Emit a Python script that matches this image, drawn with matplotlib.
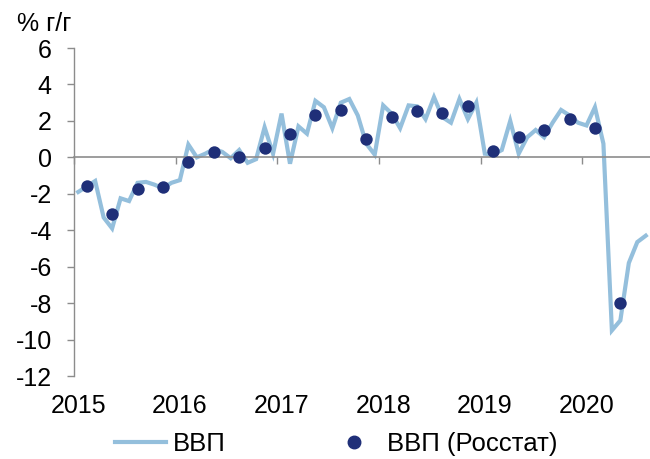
import numpy as np
import matplotlib
matplotlib.use("Agg")
import matplotlib.pyplot as plt
from matplotlib.lines import Line2D
import matplotlib.transforms as mtransforms

plt.rcParams["font.family"] = ["Liberation Sans", "DejaVu Sans"]

# monthly GDP estimate, % y/y, Jan 2015 .. Aug 2020
gdp_monthly = [
    -1.9, -1.6, -1.3, -3.3, -3.9, -2.25, -2.4, -1.4, -1.35, -1.5, -1.7, -1.4,   # 2015
    -1.25, 0.7, 0.0, 0.2, 0.45, 0.3, -0.05, 0.4, -0.3, -0.1, 1.65, 0.2,         # 2016
    2.4, -0.35, 1.7, 1.3, 3.1, 2.75, 1.6, 3.0, 3.2, 2.3, 0.75, 0.15,            # 2017
    2.85, 2.4, 1.6, 2.85, 2.8, 2.1, 3.3, 2.2, 1.9, 3.2, 2.1, 3.0,               # 2018
    0.2, 0.15, 0.4, 2.0, 0.2, 1.1, 1.5, 1.1, 1.9, 2.6, 2.3, 1.9,                # 2019
    1.75, 2.75, 0.75, -9.5, -8.95, -5.8, -4.65, -4.3,                           # 2020
]
# quarterly Rosstat GDP, Q1 2015 .. Q2 2020 (plotted at mid-quarter month)
gdp_rosstat = [
    -1.55, -3.1, -1.75, -1.65,
    -0.25, 0.3, 0.0, 0.5,
    1.3, 2.3, 2.6, 1.0,
    2.2, 2.55, 2.45, 2.8,
    0.35, 1.1, 1.5, 2.1,
    1.6, -8.0,
]
start_year = 2015
years = [2015, 2016, 2017, 2018, 2019, 2020]
yticks = [-12, -10, -8, -6, -4, -2, 0, 2, 4, 6]

line_color = "#94BFDC"
dot_color = "#1F2F78"
axis_color = "#8C8C8C"

x_month = start_year + (np.arange(len(gdp_monthly)) + 0.5) / 12
x_quarter = start_year + (np.arange(len(gdp_rosstat)) * 3 + 1.5) / 12

fig = plt.figure(figsize=(6.5, 4.59), dpi=100)
ax = fig.add_axes([74 / 650, 1 - 376 / 459, (650 - 74) / 650, (376 - 48) / 459])

ax.plot(x_month, gdp_monthly, color=line_color, lw=3, solid_joinstyle="miter",
        zorder=2)
ax.scatter(x_quarter, gdp_rosstat, s=80, color=dot_color, zorder=3, linewidths=0)

ax.set_xlim(start_year, 2020 + 8 / 12)
ax.set_ylim(-12, 6)
ax.set_yticks(yticks)
ax.set_yticklabels([str(v) for v in yticks], fontsize=18)

for side in ("top", "right"):
    ax.spines[side].set_visible(False)
ax.spines["left"].set_color(axis_color)
ax.spines["bottom"].set_color(axis_color)
ax.spines["bottom"].set_position(("data", 0))
ax.spines["left"].set_linewidth(1)
ax.spines["bottom"].set_linewidth(1.2)

ax.set_xticks(years)
ax.set_xticklabels([])
ax.tick_params(axis="both", color=axis_color, length=5, width=1)
ax.tick_params(axis="y", pad=11)

# year labels sit below the plot, centred on January of each year
trans = mtransforms.blended_transform_factory(ax.transData, ax.transAxes)
for yr in years:
    ax.text(yr + 0.5 / 12, -0.09, str(yr), transform=trans, ha="center",
            va="center", fontsize=18)

fig.text(17 / 650, 1 - 24 / 459, "% г/г", fontsize=18, ha="left", va="center")

handles = [
    Line2D([], [], color=line_color, lw=3),
    Line2D([], [], color=dot_color, marker="o", ls="none", markersize=9),
]
fig.legend(handles, ["ВВП", "ВВП (Росстат)"], loc="center",
           bbox_to_anchor=(336 / 650, 1 - 444 / 459), ncol=2, frameon=False,
           fontsize=18.5, handlelength=2.0, handletextpad=0.27, columnspacing=4.0)

fig.savefig("out.png", dpi=100)
